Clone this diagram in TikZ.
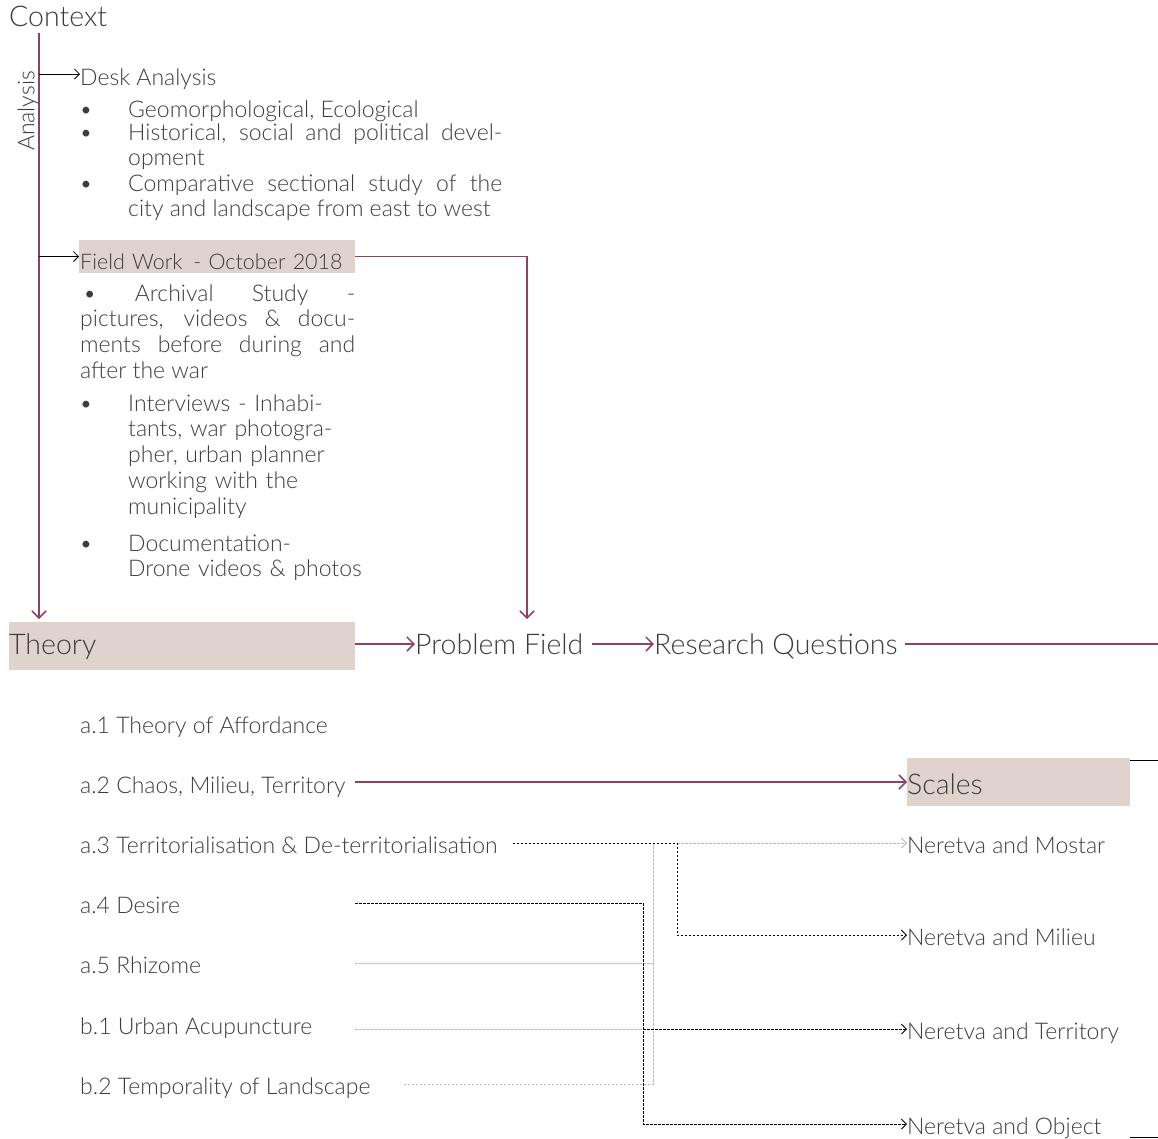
\documentclass[tikz,border=0pt]{standalone}
\usepackage{fontspec}
\setmainfont{Lato}[UprightFont=* Light]
\usetikzlibrary{arrows.meta,positioning}
\definecolor{thmaroon}{HTML}{8E4162}
\definecolor{thbox}{HTML}{E0D3CE}
\definecolor{thtext}{HTML}{3C3C3C}
\definecolor{thgray}{HTML}{B9B9B9}

\begin{document}
\begin{tikzpicture}[x=1pt, y=-1pt, line cap=butt,
  every node/.style={inner sep=0pt, text=thtext},
  body/.style={font=\fontsize{23}{25.8}\selectfont},
  head/.style={font=\fontsize{28.5}{32}\selectfont},
  listitem/.style={body, anchor=base west, text height=20pt, text depth=0pt},
  shade/.style={fill=thbox, anchor=base west},
  flow/.style={thmaroon, line width=1.5pt,
    -{Straight Barb[length=7pt,width=14pt]}},
  lead/.style={black, line width=0.8pt,
    -{Straight Barb[length=5pt,width=10pt]}},
  link/.style={black, line width=0.9pt, dash pattern=on 2.5pt off 1.5pt,
    -{Straight Barb[length=5pt,width=10pt]}},
  faint/.style={thgray, line width=0.9pt, dash pattern=on 2.5pt off 1.5pt}]
  \path[use as bounding box] (0,0) rectangle (1158,1138);

  % analysis column
  \node[head, anchor=base west] (context) at (9,26) {Context};
  \node[body, rotate=90] (analysis) at (28,111) {Analysis};
  \coordinate (spinetop) at (39,33);
  \coordinate (probtop) at (527,619);

  \node[body, anchor=base west, text height=22pt, text depth=0pt] (desk)
    at (80,85) {Desk Analysis};
  \node[body, anchor=base west, text width=374pt, align=justify] (deskA)
    at (128,117) {Geomorphological, Ecological};
  \node[body, anchor=base west, text width=374pt, align=justify] (deskB)
    at (128,140) {Historical, social and political devel-\linebreak opment};
  \node[body, anchor=base west, text width=374pt, align=justify] (deskC)
    at (128,191) {Comparative sectional study of the\linebreak city and
    landscape from east to west};

  \node[shade, font=\fontsize{21.5}{25.8}\selectfont, text width=276pt,
    text height=29pt, text depth=4pt, align=left]
    (field) at (79,269) {\hspace{1pt}Field Work\enspace - October 2018};
  \node[body, anchor=base west, text width=275pt, align=justify] (archive)
    at (80,301) {\hspace*{3pt}\textbullet\ Archival Study -\linebreak
    pictures, videos \& docu-\linebreak ments before during and\linebreak
    after the war};
  \node[body, anchor=base west, text width=240pt, align=left] (interviews)
    at (128,411) {Interviews - Inhabi-\\tants, war photogra-\\pher, urban
    planner\\working with the\\municipality};
  \node[body, anchor=base west, text width=240pt, align=left] (drone)
    at (128,551) {Documentation-\\Drone videos \& photos};
  \foreach \n/\y in {dotA/117,dotB/140,dotC/191,dotD/411,dotE/551}
    \node[body, anchor=base] (\n) at (86,\y) {\textbullet};

  % main row
  \node[head, shade, text width=346pt, text height=32pt, text depth=16pt]
    (theory) at (9,654) {Theory};
  \node[head, anchor=base west, text height=20pt, text depth=0pt] (problem)
    at (415,654) {Problem Field};
  \node[head, anchor=base west, text height=20pt, text depth=0pt] (rq)
    at (654,654) {Research Questions};
  \coordinate (rqend) at (1158,644);

  \draw[flow] (spinetop) -- (spinetop |- probtop);
  \draw[lead] (spinetop |- desk.west) -- (desk.west);
  \draw[lead] (spinetop |- field.west) -- (field.west);
  \draw[flow] (field.east) -| (probtop);
  \draw[flow] (theory.east |- problem.west) -- (problem.west);
  \draw[flow] ([xshift=9pt]problem.east) -- (rq.west);
  \draw[flow, -] ([xshift=7pt]rq.east) -- (rq.east -| rqend);

  % theory list and scales
  \foreach \n/\y/\t in {a1/733/{a.1 Theory of Affordance},
      a2/793/{a.2 Chaos, Milieu, Territory},
      a3/853/{a.3 Territorialisation \& De-territorialisation},
      a4/913/{a.4 Desire}, a5/973/{a.5 Rhizome},
      b1/1034/{b.1 Urban Acupuncture},
      b2/1094/{b.2 Temporality of Landscape}}
    \node[listitem] (\n) at (80,\y) {\t};

  \node[head, shade, text width=223pt, text height=36pt, text depth=12pt]
    (scales) at (907,794) {Scales};
  \foreach \n/\y/\t in {mostar/853/Mostar, milieu/945/Milieu,
      territory/1039/Territory, object/1134/Object}
    \node[listitem] (\n) at (907,\y) {Neretva and \t};

  \draw[flow] (theory.east |- scales.west) -- (scales.west);
  \draw[line width=0.8pt] ([yshift=-3pt]scales.north east) -- +(28,0);
  \draw[line width=0.8pt] (1130,1137) -- (1158,1137);

  \coordinate (splitA) at (643,0);
  \coordinate (splitB) at (653,0);
  \coordinate (splitC) at (677,0);
  \draw[faint] (splitB |- a3.east) |- ([xshift=32pt]b2.east);
  \draw[faint] (theory.east |- a5.east) -- (splitB |- a5.east);
  \draw[faint] (theory.east |- territory.west) -- (splitA |- territory.west);
  \draw[faint, -{Straight Barb[length=5pt,width=10pt]}]
    (splitC |- a3.east) -- (mostar.west);
  \draw[link] ([xshift=15pt]a3.east) -| (splitC |- milieu.west)
    -- (milieu.west);
  \draw[link] (theory.east |- a4.east) -| (splitA |- object.west)
    -- (object.west);
  \draw[link] (splitA |- territory.west) -- (territory.west);
\end{tikzpicture}
\end{document}
